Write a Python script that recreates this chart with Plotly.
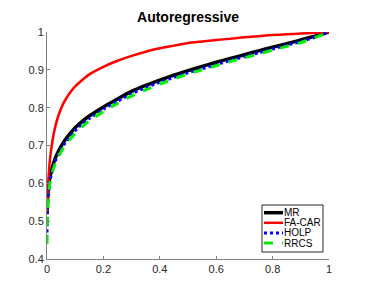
import plotly.graph_objects as go

x = [0, 0.002, 0.005, 0.01, 0.02, 0.03, 0.04, 0.05, 0.06, 0.08, 0.1, 0.125, 0.15, 0.2, 0.25, 0.3, 0.35, 0.4, 0.45, 0.5, 0.55, 0.6, 0.65, 0.7, 0.75, 0.8, 0.85, 0.9, 0.95, 1.0]

mr = [0.52, 0.56, 0.59, 0.615, 0.645, 0.668, 0.684, 0.698, 0.71, 0.73, 0.747, 0.764, 0.778, 0.802, 0.823, 0.843, 0.859, 0.873, 0.886, 0.898, 0.909, 0.92, 0.93, 0.94, 0.95, 0.96, 0.969, 0.979, 0.989, 1.0]
facar = [0.52, 0.57, 0.61, 0.66, 0.715, 0.752, 0.778, 0.798, 0.814, 0.838, 0.856, 0.873, 0.888, 0.908, 0.924, 0.937, 0.948, 0.957, 0.964, 0.971, 0.975, 0.979, 0.982, 0.986, 0.989, 0.992, 0.994, 0.996, 0.998, 1.0]
holp = [0.47, 0.53, 0.57, 0.605, 0.637, 0.66, 0.676, 0.69, 0.702, 0.722, 0.739, 0.757, 0.771, 0.796, 0.817, 0.837, 0.853, 0.867, 0.88, 0.892, 0.903, 0.914, 0.925, 0.935, 0.945, 0.955, 0.965, 0.975, 0.986, 1.0]
rrcs = [0.44, 0.52, 0.56, 0.6, 0.632, 0.654, 0.67, 0.684, 0.696, 0.715, 0.732, 0.75, 0.765, 0.79, 0.811, 0.831, 0.847, 0.862, 0.876, 0.889, 0.9, 0.911, 0.922, 0.932, 0.942, 0.952, 0.962, 0.972, 0.985, 1.0]

names = ["MR", "FA-CAR", "HOLP", "RRCS"]
colors = ["black", "#ff0000", "#0000ff", "#00ee00"]
dashes = ["solid", "solid", "dot", "dash"]
widths = [3.5, 2.5, 3, 3]
values = [mr, facar, holp, rrcs]

OFF = 8  # page body margin
W, H = 374, 291
# target plot area in screenshot pixels
PX0, PX1, PY0, PY1 = 47, 329, 32, 259
L, T = PX0 - OFF, PY0 - OFF
R, B = W - (PX1 - OFF), H - (PY1 - OFF)
pw, ph = PX1 - PX0, PY1 - PY0

def px_x(p):
    return (p - PX0) / pw

def px_y(p):
    return (PY1 - p) / ph

fig = go.Figure()
for name, ys, color, dash, w in zip(names, values, colors, dashes, widths):
    fig.add_trace(go.Scatter(x=x, y=ys, mode="lines", name=name, showlegend=False,
                             line=dict(color=color, dash=dash, width=w, shape="spline", smoothing=0.6)))

# custom compact legend (MATLAB style)
shapes = [dict(type="rect", xref="paper", yref="paper",
               x0=px_x(262), x1=px_x(323), y0=px_y(252), y1=px_y(205),
               line=dict(color="#262626", width=1), fillcolor="white", layer="above")]
annotations = []
ys_leg = [212.7, 222.8, 232.9, 243.0]
for name, color, dash, w, yy in zip(names, colors, dashes, widths, ys_leg):
    shapes.append(dict(type="line", xref="paper", yref="paper",
                       x0=px_x(264), x1=px_x(283), y0=px_y(yy), y1=px_y(yy),
                       line=dict(color=color, dash=dash, width=w), layer="above"))
    annotations.append(dict(xref="paper", yref="paper", x=px_x(283), y=px_y(yy),
                            xanchor="left", yanchor="middle", text=name, showarrow=False,
                            font=dict(size=10, color="black"), borderpad=0))

fig.update_layout(
    width=W, height=H,
    margin=dict(l=L, r=R, t=T, b=B, autoexpand=False),
    paper_bgcolor="white", plot_bgcolor="white",
    font=dict(family="Liberation Sans, Arial, sans-serif", color="#262626", size=11),
    title=dict(text="<b>Autoregressive</b>", x=(188 - OFF) / W, xanchor="center", y=1 - (12 - OFF) / H, yanchor="top",
               font=dict(size=14, color="black")),
    showlegend=False,
    shapes=shapes,
    annotations=annotations,
    xaxis=dict(range=[0, 1], tickvals=[0, 0.2, 0.4, 0.6, 0.8, 1], ticktext=["0", "0.2", "0.4", "0.6", "0.8", "1"],
               showgrid=False, zeroline=False, showline=True, linecolor="#808080", linewidth=1,
               ticks="inside", ticklen=3, tickcolor="#808080", automargin=False),
    yaxis=dict(range=[0.4, 1], tickvals=[0.4, 0.5, 0.6, 0.7, 0.8, 0.9, 1], ticktext=["0.4", "0.5", "0.6", "0.7", "0.8", "0.9", "1"],
               showgrid=False, zeroline=False, showline=True, linecolor="#808080", linewidth=1,
               ticks="inside", ticklen=3, tickcolor="#808080", automargin=False),
)

fig.write_html("out.html")
